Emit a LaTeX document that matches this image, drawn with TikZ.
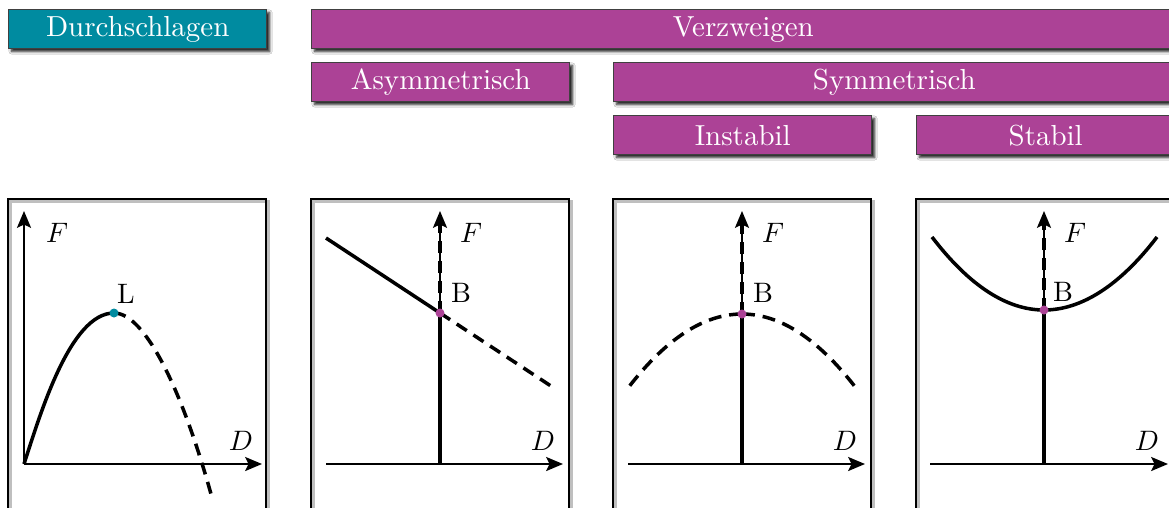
\documentclass[tikz,border=0pt]{standalone}
\usetikzlibrary{arrows.meta,shadows,shadows.blur}
\definecolor{tealc}{RGB}{0,139,160}
\definecolor{magc}{RGB}{172,66,150}
\tikzset{
  hdr/.style={draw=black!75, line width=0.5pt, text=white, minimum height=13.87pt,
    inner sep=0pt, anchor=north west, font=\fontsize{10.3pt}{12pt}\selectfont,
    blur shadow={shadow xshift=1pt, shadow yshift=-1pt, shadow blur radius=0.9pt,
      shadow blur steps=6, shadow opacity=90}},
  tealbox/.style={hdr, fill=tealc},
  magbox/.style={hdr, fill=magc},
  plotframe/.style={draw=black, line width=0.6pt},
  frameshadow/.style={draw=black!25, line width=1.3pt},
  axisline/.style={line width=0.7pt, -{Stealth[length=6pt,width=5pt,inset=1.2pt]}},
  curve/.style={line width=1.25pt},
  dcurve/.style={line width=1.25pt, dash pattern=on 4.3pt off 2.8pt},
  dcurveb/.style={line width=1.25pt, dash pattern=on 4.6pt off 2.8pt},
  dot/.style={circle, inner sep=0pt, minimum size=3.2pt},
  lab/.style={inner sep=0pt}
}
\begin{document}
\begin{tikzpicture}[x=0.0125cm, y=-0.0125cm]
\clip (0,0) rectangle (1169,507);
\fill[white] (0,0) rectangle (1169,507);

% headers
\node[tealbox, minimum width=91.76pt] (hd) at (8,9) {Durchschlagen};
\node[magbox, minimum width=306.93pt] (hv) at (311,9) {Verzweigen};
\node[magbox, minimum width=91.76pt] (ha) at (311,62) {Asymmetrisch};
\node[magbox, minimum width=199.53pt] (hs) at (613,62) {Symmetrisch};
\node[magbox, minimum width=91.76pt] (hi) at (613,115) {Instabil};
\node[magbox, minimum width=91.76pt] (hst) at (916,115) {Stabil};

% frames
\foreach \fx in {8,311,613,916} {
  \draw[frameshadow] (\fx+2.5,201.5) rectangle (\fx+260.5,545);
  \draw[plotframe] (\fx,199) rectangle (\fx+258,545);
}

% plot 1: Durchschlagen
\coordinate (o1) at (24,464);
\coordinate (x1) at (262,464);
\coordinate (y1) at (24,211);
\coordinate (e1) at (211,494);
\coordinate (L1) at (114,313);
\draw[axisline] (o1) -- (x1);
\draw[axisline] (o1) -- (y1);
\draw[curve] (o1) .. controls (40,415) and (70,313) .. (L1);
\draw[dcurve] (L1) .. controls (145,313) and (182,390) .. (e1);
\node[dot, fill=tealc] (Ld) at (L1) {};
\node[lab] (F1) at (57,233) {$F$};
\node[lab] (D1) at (241,441) {$D$};
\node[lab] (Ll) at (126,294) {L};

% plot 2: Asymmetrisch
\coordinate (o2) at (326,464);
\coordinate (x2) at (563,464);
\coordinate (v2) at (440,464);
\coordinate (y2) at (440,211);
\coordinate (t2) at (440,222);
\coordinate (B2) at (440,313);
\coordinate (a2) at (326,238);
\coordinate (b2) at (554,388);
\draw[axisline] (o2) -- (x2);
\draw[axisline] (v2) -- (y2);
\draw[curve] (v2) -- (B2);
\draw[dcurve] (B2) -- (t2);
\draw[curve] (a2) -- (B2);
\draw[dcurve] (B2) -- (b2);
\node[dot, fill=magc] (Bd2) at (B2) {};
\node[lab] (F2) at (471,233) {$F$};
\node[lab] (D2) at (543,441) {$D$};
\node[lab] (Bl2) at (461,293) {B};

% plot 3: Instabil
\begin{scope}[shift={(302,0)}]
\coordinate (o3) at (326,464);
\coordinate (x3) at (563,464);
\coordinate (v3) at (440,464);
\coordinate (y3) at (440,211);
\coordinate (t3) at (440,222);
\coordinate (B3) at (440,314);
\coordinate (a3) at (326,388);
\coordinate (b3) at (554,388);
\draw[axisline] (o3) -- (x3);
\draw[axisline] (v3) -- (y3);
\draw[curve] (v3) -- (B3);
\draw[dcurve] (B3) -- (t3);
\draw[dcurveb] (B3) .. controls (402,314) and (364,338.67) .. (a3);
\draw[dcurveb] (B3) .. controls (478,314) and (516,338.67) .. (b3);
\node[dot, fill=magc] (Bd3) at (B3) {};
\node[lab] (F3) at (471,233) {$F$};
\node[lab] (D3) at (543,441) {$D$};
\node[lab] (Bl3) at (461,293) {B};
\end{scope}

% plot 4: Stabil
\begin{scope}[shift={(604,0)}]
\coordinate (o4) at (326,464);
\coordinate (x4) at (564,464);
\coordinate (v4) at (440,464);
\coordinate (y4) at (440,211);
\coordinate (t4) at (440,222);
\coordinate (B4) at (440,310);
\coordinate (a4) at (328,237);
\coordinate (b4) at (553,237);
\draw[axisline] (o4) -- (x4);
\draw[axisline] (v4) -- (y4);
\draw[curve] (v4) -- (B4);
\draw[dcurve] (B4) -- (t4);
\draw[curve] (a4) .. controls (365.3,285.7) and (402.7,310) .. (B4)
  .. controls (477.3,310) and (515.7,285.7) .. (b4);
\node[dot, fill=magc] (Bd4) at (B4) {};
\node[lab] (F4) at (471,233) {$F$};
\node[lab] (D4) at (543,441) {$D$};
\node[lab] (Bl4) at (459,292) {B};
\end{scope}
\end{tikzpicture}
\end{document}
